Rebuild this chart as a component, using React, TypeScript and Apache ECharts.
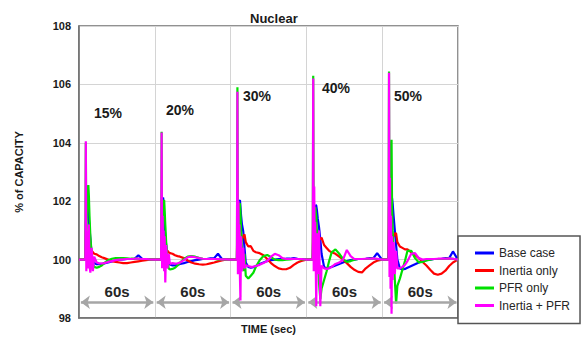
import React, { useEffect, useRef } from "react";
import * as echarts from "echarts";

// relative time (s) inside each 60 s window
const relT = [0, 5, 5.4, 5.8, 6.2, 6.6, 7, 7.4, 7.8, 8.3, 9, 10, 11, 12, 14, 16, 18, 20, 23, 26, 29, 32, 35, 38, 41, 44, 47, 50, 53, 56, 59.9];

const seriesNames = ["Base case", "Inertia only", "PFR only", "Inertia + PFR"];
const seriesColors = ["#0000ff", "#ff0000", "#00e000", "#ff00ff"];
const windowLabels = ["15%", "20%", "30%", "40%", "50%"];
const windowSeconds = ["60s", "60s", "60s", "60s", "60s"];
const yTicks = [98, 100, 102, 104, 106, 108];

const baseCase = [
  [100, 100, 101.2, 101.6, 101.9, 102.0, 102.05, 101.8, 101.4, 101.1, 100.7, 100.2, 99.95, 99.88, 99.84, 99.84, 99.85, 99.87, 99.9, 99.94, 99.97, 100, 100.01, 100.02, 100.02, 100.03, 100.15, 100.03, 100.02, 100.01, 100],
  [100, 100, 101.4, 101.8, 102.1, 102.12, 101.9, 101.5, 101.1, 100.8, 100.5, 100.1, 99.9, 99.83, 99.8, 99.8, 99.82, 99.85, 99.88, 99.92, 99.95, 99.98, 100, 100.02, 100.02, 100.04, 100.05, 100.2, 100.03, 100.02, 100],
  [100, 100, 101.0, 101.4, 101.7, 101.9, 102.0, 102.04, 101.8, 101.5, 101.2, 100.97, 100.4, 99.9, 99.75, 99.72, 99.74, 99.78, 99.85, 99.9, 99.95, 99.98, 100, 100.02, 100.02, 100.03, 100.03, 100.05, 100.03, 100.02, 100],
  [100, 100, 100.8, 101.2, 101.5, 101.7, 101.8, 101.87, 101.85, 101.7, 101.4, 101.1, 100.7, 100.2, 99.75, 99.7, 99.72, 99.75, 99.8, 99.85, 99.9, 99.95, 99.98, 100, 100.02, 100.02, 100.03, 100.05, 100.05, 100.22, 100],
  [100, 100, 101.0, 101.5, 101.8, 102.0, 102.1, 102.16, 102.1, 101.9, 101.5, 101.0, 100.5, 100.0, 99.7, 99.66, 99.68, 99.72, 99.78, 99.84, 99.9, 99.95, 99.98, 100, 100.02, 100.02, 100.03, 100.05, 100.05, 100.28, 100],
];

const inertiaOnly = [
  [100, 100, 101.0, 100.6, 100.9, 100.5, 100.4, 100.3, 100.25, 100.2, 100.22, 100.3, 100.25, 100.2, 100.18, 100.12, 100.08, 100.05, 100.0, 99.95, 99.92, 99.9, 99.88, 99.88, 99.9, 99.92, 99.94, 99.96, 99.98, 100, 100],
  [100, 100, 101.2, 100.7, 101.0, 100.6, 100.5, 100.4, 100.3, 100.3, 100.35, 100.3, 100.25, 100.22, 100.2, 100.15, 100.12, 100.1, 100.05, 99.97, 99.9, 99.86, 99.84, 99.83, 99.84, 99.87, 99.9, 99.94, 99.97, 100, 100],
  [100, 100, 101.5, 100.8, 101.2, 100.7, 100.6, 100.5, 100.5, 100.6, 100.7, 100.8, 100.86, 100.6, 100.45, 100.46, 100.3, 100.25, 100.22, 100.15, 100.02, 99.88, 99.78, 99.7, 99.67, 99.67, 99.72, 99.82, 99.9, 99.95, 100],
  [100, 100, 101.6, 100.9, 101.3, 100.8, 100.7, 100.6, 100.6, 100.65, 100.7, 100.75, 100.7, 100.75, 100.5, 100.4, 100.3, 100.25, 100.2, 100.1, 100.0, 99.88, 99.75, 99.65, 99.58, 99.56, 99.7, 99.8, 99.9, 99.96, 100],
  [100, 100, 101.8, 101.0, 101.4, 100.9, 100.8, 100.7, 100.7, 100.75, 100.8, 100.9, 100.9, 100.6, 100.45, 100.4, 100.35, 100.35, 100.25, 100.15, 100.05, 99.92, 99.8, 99.65, 99.52, 99.48, 99.52, 99.62, 99.78, 99.9, 100],
];

const pfrOnly = [
  [100, 100, 104.0, 100.5, 101.5, 102.0, 102.4, 102.55, 102.2, 101.5, 100.8, 100.2, 99.85, 99.75, 99.72, 99.75, 99.8, 99.88, 99.98, 100.03, 100.05, 100.05, 100.05, 100.04, 100.03, 100.03, 100.03, 100.02, 100.02, 100.01, 100],
  [100, 100, 104.38, 100.4, 101.3, 101.8, 102.0, 102.04, 101.7, 101.2, 100.6, 100.0, 99.7, 99.66, 99.68, 99.72, 99.8, 99.9, 100.02, 100.1, 100.12, 100.1, 100.06, 100.03, 100.02, 100.02, 100.02, 100.01, 100.01, 100, 100],
  [100, 100, 105.9, 100.0, 101.0, 101.6, 101.9, 101.93, 101.6, 101.0, 100.4, 99.6, 100.2, 99.45, 99.35, 99.45, 99.55, 99.75, 99.98, 100.12, 100.16, 100.08, 100.0, 99.98, 99.98, 100, 100.01, 100.02, 100.02, 100.01, 100],
  [100, 100, 106.3, 100.2, 101.2, 101.6, 101.8, 101.8, 101.5, 101.0, 100.3, 99.2, 98.65, 99.0, 99.3, 99.6, 99.95, 100.25, 100.35, 100.2, 100.02, 99.92, 99.95, 100.0, 100.02, 100.02, 100.02, 100.03, 100.03, 100.02, 100],
  [100, 100, 106.44, 100.5, 101.5, 102.0, 103.5, 104.1, 101.8, 101.0, 100.2, 99.3, 98.5, 99.1, 99.35, 99.65, 99.95, 100.3, 100.3, 100.05, 99.9, 99.92, 99.97, 100, 100.02, 100.02, 100.02, 100.03, 100.04, 100.03, 100],
];

const inertiaPfr = [
  [100, 100, 104.05, 99.6, 101.0, 100.3, 100.9, 99.7, 101.2, 99.8, 99.55, 100.4, 99.6, 100.1, 99.9, 99.87, 99.87, 99.88, 99.92, 99.95, 99.98, 100, 100.01, 100.02, 100.02, 100.03, 100.03, 100.02, 100.02, 100.01, 100],
  [100, 100, 104.35, 99.7, 101.5, 100.2, 101.0, 99.6, 100.8, 99.22, 100.5, 99.7, 100.2, 99.85, 99.88, 99.86, 99.87, 99.9, 99.98, 100.08, 100.1, 100.08, 100.05, 100.03, 100.02, 100.02, 100.02, 100.02, 100.01, 100.01, 100],
  [100, 100, 105.75, 99.5, 102.0, 100.0, 101.2, 99.4, 98.6, 100.8, 99.6, 100.4, 99.7, 99.8, 99.78, 99.75, 99.76, 99.78, 99.82, 99.88, 99.95, 100.1, 100.2, 100.15, 100.05, 100.02, 100.02, 100.03, 100.02, 100.02, 100],
  [100, 100, 106.2, 99.6, 102.5, 100.0, 101.3, 99.8, 98.4, 100.9, 99.5, 101.0, 98.4, 99.8, 99.7, 99.68, 99.7, 99.75, 99.85, 99.9, 100.0, 100.33, 100.12, 100.02, 100.02, 100.02, 100.03, 100.03, 100.04, 100.03, 100],
  [100, 100, 106.4, 99.4, 102.8, 99.0, 101.5, 98.15, 100.8, 99.3, 100.6, 99.5, 100.3, 99.7, 99.7, 99.75, 99.82, 99.95, 100.2, 100.22, 100.05, 100.0, 100.02, 100.02, 100.02, 100.03, 100.03, 100.03, 100.04, 100.03, 100],
];

const allSeries = [baseCase, inertiaOnly, pfrOnly, inertiaPfr];

const FONT = '"Liberation Sans", Arial, sans-serif';

function build(segs: number[][]) {
  const out: number[][] = [];
  segs.forEach((vals, s) => {
    vals.forEach((v, i) => out.push([s * 60 + relT[i], v]));
  });
  return out;
}

// pixel layout of the percent labels (annotation positions)
const pctPos = [
  [108, 113],
  [180, 110],
  [257, 96],
  [336, 88],
  [408, 96],
];

export default function App() {
  const ref = useRef<HTMLDivElement>(null);
  useEffect(() => {
    document.body.style.margin = "0";
    if (!ref.current) return;
    const chart = echarts.init(ref.current, null, { renderer: "svg" });
    const lineSeries = allSeries.map((segs, k) => ({
      name: seriesNames[k],
      type: "line",
      data: build(segs),
      showSymbol: false,
      symbol: "none",
      lineStyle: { width: 2.2, color: seriesColors[k] },
      itemStyle: { color: seriesColors[k] },
      z: 2 + k,
    }));
    const arrowSeries = {
      name: "arrows",
      type: "line",
      data: [],
      silent: true,
      markLine: {
        silent: true,
        symbol: ["arrow", "arrow"],
        symbolSize: [10, 9],
        lineStyle: { color: "#a6a6a6", width: 2.5, type: "solid" },
        label: {
          show: true,
          position: "middle",
          distance: 3,
          formatter: (p: any) => p.name,
          fontFamily: FONT,
          fontWeight: "bold",
          fontSize: 15,
          color: "#262626",
        },
        data: windowSeconds.map((lbl, s) => [
          { name: lbl, coord: [s * 60 + 1.5, 98.54] },
          { coord: [s * 60 + 58.8, 98.54] },
        ]),
      },
    };
    chart.setOption({
      animation: false,
      backgroundColor: "#ffffff",
      title: {
        text: "Nuclear",
        left: 245,
        top: 7,
        textStyle: { fontFamily: FONT, fontWeight: "bold", fontSize: 13, color: "#1a1a1a" },
      },
      grid: {
        left: 79,
        right: 129,
        top: 26,
        bottom: 18,
        show: true,
        borderColor: "#6e6e6e",
        borderWidth: 1.5,
      },
      legend: {
        data: seriesNames,
        orient: "vertical",
        left: 458,
        top: 236,
        padding: [10, 10, 11, 17],
        itemGap: 3.5,
        itemWidth: 19,
        itemHeight: 3,
        icon: "rect",
        borderColor: "#555555",
        borderWidth: 1.5,
        backgroundColor: "#ffffff",
        textStyle: { fontFamily: FONT, fontSize: 12, color: "#262626", lineHeight: 14 },
      },
      xAxis: {
        type: "value",
        min: 0,
        max: 300,
        interval: 60,
        name: "TIME (sec)",
        nameLocation: "middle",
        nameGap: 5,
        nameTextStyle: { fontFamily: FONT, fontWeight: "bold", fontSize: 11, color: "#1a1a1a", verticalAlign: "top" },
        axisLine: { show: true, lineStyle: { color: "#6e6e6e", width: 1.5 } },
        axisTick: { show: false },
        axisLabel: { show: false },
        splitLine: { show: true, lineStyle: { color: "#d4d4d4", width: 1 } },
      },
      yAxis: {
        type: "value",
        min: yTicks[0],
        max: yTicks[yTicks.length - 1],
        interval: 2,
        name: "% of CAPACITY",
        nameLocation: "middle",
        nameGap: 55,
        nameRotate: 90,
        nameTextStyle: { fontFamily: FONT, fontWeight: "bold", fontSize: 11, color: "#1a1a1a" },
        axisLine: { show: true, lineStyle: { color: "#6e6e6e", width: 1.5 } },
        axisTick: { show: false },
        axisLabel: { margin: 8, fontFamily: FONT, fontWeight: "bold", fontSize: 11, color: "#1a1a1a" },
        splitLine: { show: true, lineStyle: { color: "#d4d4d4", width: 1 } },
      },
      graphic: windowLabels.map((t, i) => ({
        type: "text",
        x: pctPos[i][0],
        y: pctPos[i][1],
        z: 20,
        style: {
          text: t,
          font: `bold 14px ${FONT}`,
          fill: "#1a1a1a",
          align: "center",
          verticalAlign: "middle",
        },
      })),
      series: [arrowSeries, ...lineSeries],
    });
    return () => chart.dispose();
  }, []);
  return <div ref={ref} style={{ width: 587, height: 339 }} />;
}
